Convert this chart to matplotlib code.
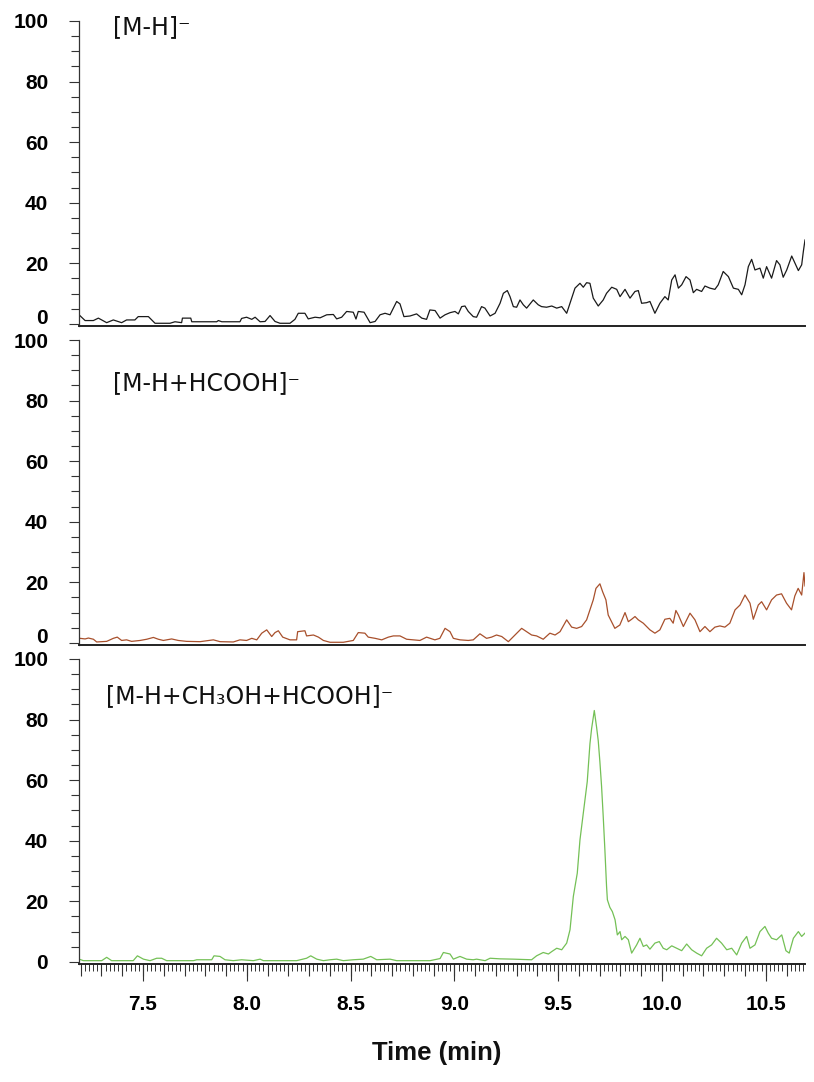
import matplotlib
matplotlib.use("Agg")
import matplotlib.pyplot as plt
from matplotlib.ticker import MultipleLocator, FixedLocator

# ---------------- data ----------------
t1 = [7.192, 7.221, 7.261, 7.285, 7.325, 7.357, 7.397, 7.421, 7.461, 7.477,
      7.526, 7.558, 7.630, 7.654, 7.686, 7.690, 7.730, 7.735, 7.855, 7.863,
      7.880, 7.967, 7.975, 7.999, 8.024, 8.040, 8.064, 8.088, 8.112, 8.136,
      8.160, 8.208, 8.232, 8.248, 8.280, 8.296, 8.329, 8.353, 8.385, 8.417,
      8.433, 8.457, 8.481, 8.513, 8.526, 8.537, 8.565, 8.594, 8.618, 8.642,
      8.666, 8.690, 8.722, 8.738, 8.757, 8.786, 8.818, 8.843, 8.866, 8.882,
      8.907, 8.931, 8.955, 8.979, 9.003, 9.019, 9.035, 9.051, 9.067, 9.091,
      9.107, 9.131, 9.147, 9.172, 9.196, 9.220, 9.236, 9.255, 9.268, 9.284,
      9.300, 9.316, 9.332, 9.348, 9.380, 9.404, 9.420, 9.444, 9.469, 9.493,
      9.517, 9.541, 9.557, 9.581, 9.605, 9.621, 9.637, 9.653, 9.669, 9.693,
      9.717, 9.733, 9.758, 9.782, 9.798, 9.822, 9.846, 9.870, 9.886, 9.902,
      9.926, 9.942, 9.966, 9.990, 10.014, 10.030, 10.047, 10.063, 10.079, 10.095,
      10.116, 10.135, 10.151, 10.167, 10.191, 10.207, 10.231, 10.255, 10.271, 10.295,
      10.320, 10.344, 10.368, 10.384, 10.400, 10.416, 10.432, 10.448, 10.472, 10.488,
      10.504, 10.528, 10.552, 10.568, 10.584, 10.601, 10.625, 10.641, 10.657, 10.673,
      10.681, 10.689]
y1 = [3.0, 1.1, 1.1, 1.9, 0.4, 1.3, 0.4, 1.3, 1.3, 2.4,
      2.4, 0.2, 0.2, 0.7, 0.4, 1.9, 1.9, 0.7, 0.7, 1.1,
      0.7, 0.7, 1.8, 2.2, 1.5, 2.2, 0.7, 0.8, 2.75, 0.8,
      0.2, 0.2, 1.5, 3.5, 3.5, 1.65, 2.2, 2.0, 3.0, 3.1,
      1.65, 2.2, 4.1, 3.85, 1.6, 4.1, 3.85, 0.4, 0.8, 3.0,
      3.5, 3.0, 7.4, 6.6, 2.4, 2.6, 3.3, 1.9, 1.5, 4.6,
      4.4, 1.9, 3.0, 3.7, 4.1, 3.3, 5.7, 5.9, 4.1, 2.4,
      2.2, 5.7, 5.2, 2.6, 3.5, 6.8, 10.1, 11.0, 9.0, 5.7,
      5.5, 7.9, 6.3, 5.2, 7.9, 6.3, 5.7, 5.5, 5.9, 5.2,
      5.7, 3.5, 6.8, 11.8, 13.4, 12.1, 13.6, 13.4, 8.5, 5.9,
      7.9, 10.1, 12.1, 11.4, 9.0, 11.4, 8.5, 10.7, 11.0, 6.8,
      7.0, 7.4, 3.5, 6.8, 9.0, 7.9, 14.5, 16.2, 11.8, 12.9,
      15.6, 14.5, 10.3, 11.4, 10.7, 12.5, 11.8, 11.4, 12.9, 17.3,
      15.6, 11.8, 11.4, 9.6, 12.9, 18.9, 21.3, 17.8, 18.4, 15.1,
      18.9, 15.1, 20.9, 19.5, 15.4, 17.8, 22.4, 20.0, 17.6, 19.5,
      23.9, 27.7]

t2 = [7.192, 7.197, 7.221, 7.237, 7.261, 7.277, 7.325, 7.357, 7.376, 7.397,
      7.421, 7.445, 7.486, 7.518, 7.550, 7.574, 7.598, 7.638, 7.670, 7.710,
      7.775, 7.839, 7.871, 7.935, 7.967, 7.999, 8.024, 8.048, 8.072, 8.096,
      8.120, 8.136, 8.152, 8.173, 8.208, 8.240, 8.245, 8.280, 8.288, 8.321,
      8.345, 8.369, 8.401, 8.465, 8.513, 8.537, 8.569, 8.585, 8.618, 8.650,
      8.682, 8.706, 8.738, 8.770, 8.834, 8.866, 8.906, 8.930, 8.955, 8.979,
      8.995, 9.027, 9.067, 9.091, 9.123, 9.155, 9.179, 9.203, 9.228, 9.260,
      9.292, 9.324, 9.348, 9.372, 9.396, 9.428, 9.460, 9.485, 9.509, 9.541,
      9.565, 9.589, 9.613, 9.637, 9.653, 9.669, 9.682, 9.701, 9.714, 9.730,
      9.741, 9.757, 9.773, 9.797, 9.822, 9.838, 9.854, 9.870, 9.886, 9.910,
      9.942, 9.966, 9.990, 10.014, 10.038, 10.054, 10.067, 10.079, 10.103, 10.135,
      10.159, 10.183, 10.207, 10.231, 10.255, 10.279, 10.303, 10.327, 10.352, 10.376,
      10.400, 10.424, 10.440, 10.464, 10.480, 10.504, 10.528, 10.552, 10.576, 10.600,
      10.624, 10.640, 10.656, 10.673, 10.684, 10.689]
y2 = [1.2, 1.5, 1.3, 1.6, 1.2, 0.3, 0.5, 1.5, 1.9, 0.8,
      1.0, 0.5, 0.8, 1.2, 1.8, 1.2, 0.8, 1.3, 0.8, 0.5,
      0.4, 1.0, 0.4, 0.3, 1.0, 0.8, 1.5, 1.0, 3.2, 4.3,
      2.1, 3.4, 4.0, 1.9, 1.0, 1.0, 3.7, 4.0, 2.3, 2.6,
      1.9, 0.8, 0.2, 0.2, 0.8, 3.4, 3.2, 1.9, 1.5, 1.0,
      1.9, 2.3, 2.3, 1.2, 0.8, 1.9, 1.0, 1.5, 4.8, 3.7,
      1.5, 1.0, 0.8, 1.0, 3.0, 1.5, 1.9, 2.6, 2.1, 0.4,
      2.6, 4.8, 3.7, 2.6, 2.3, 1.2, 3.2, 2.6, 3.7, 7.6,
      5.2, 4.8, 5.4, 7.6, 10.9, 14.2, 18.0, 19.5, 16.9, 14.2,
      9.2, 7.0, 4.8, 5.9, 10.0, 7.0, 7.8, 8.7, 7.6, 6.5,
      4.3, 3.2, 4.3, 7.8, 8.1, 6.5, 10.7, 9.2, 5.4, 9.8,
      7.6, 3.7, 5.4, 3.7, 5.2, 5.6, 5.2, 6.5, 10.9, 12.5,
      15.8, 13.1, 7.8, 12.5, 13.6, 10.9, 14.2, 15.8, 16.2, 13.1,
      10.9, 15.5, 18.0, 15.8, 23.2, 18.8]

t3 = [7.192, 7.213, 7.301, 7.325, 7.349, 7.453, 7.473, 7.502, 7.534, 7.566,
      7.590, 7.614, 7.743, 7.759, 7.831, 7.842, 7.871, 7.895, 7.935, 7.975,
      8.032, 8.064, 8.080, 8.240, 8.288, 8.308, 8.337, 8.369, 8.401, 8.433,
      8.465, 8.513, 8.561, 8.597, 8.626, 8.690, 8.722, 8.883, 8.931, 8.947,
      8.979, 8.995, 9.027, 9.059, 9.091, 9.107, 9.148, 9.172, 9.220, 9.284,
      9.372, 9.396, 9.428, 9.453, 9.469, 9.493, 9.517, 9.541, 9.557, 9.573,
      9.592, 9.605, 9.621, 9.640, 9.653, 9.661, 9.674, 9.685, 9.693, 9.701,
      9.709, 9.717, 9.725, 9.733, 9.737, 9.749, 9.761, 9.774, 9.785, 9.798,
      9.806, 9.822, 9.838, 9.854, 9.878, 9.894, 9.910, 9.926, 9.942, 9.966,
      9.987, 10.006, 10.023, 10.047, 10.071, 10.095, 10.119, 10.143, 10.167, 10.191,
      10.215, 10.239, 10.263, 10.287, 10.312, 10.336, 10.360, 10.384, 10.408, 10.424,
      10.448, 10.472, 10.496, 10.512, 10.528, 10.552, 10.577, 10.597, 10.613, 10.633,
      10.657, 10.673, 10.689]
y3 = [0.9, 0.4, 0.4, 1.5, 0.4, 0.4, 2.0, 0.9, 0.4, 1.2,
      1.2, 0.4, 0.4, 0.7, 0.7, 2.0, 1.8, 0.7, 0.4, 0.7,
      0.4, 0.9, 0.4, 0.4, 1.2, 2.0, 0.9, 0.4, 0.7, 0.9,
      0.4, 0.7, 0.9, 1.8, 0.7, 0.9, 0.4, 0.4, 1.1, 3.1,
      2.6, 0.9, 1.8, 0.9, 0.7, 0.9, 0.4, 1.2, 1.0, 0.9,
      0.7, 2.0, 3.1, 2.6, 3.4, 4.5, 4.0, 6.2, 10.6, 21.6,
      29.3, 40.3, 49.1, 59.5, 72.0, 77.0, 83.0, 77.5, 73.0, 66.0,
      58.0, 48.0, 37.0, 25.0, 20.5, 18.0, 16.6, 13.9, 8.9, 10.0,
      7.3, 8.4, 7.3, 2.9, 5.6, 7.8, 5.1, 5.6, 4.2, 6.2,
      6.7, 4.5, 4.0, 5.3, 4.5, 3.7, 5.9, 4.0, 2.9, 2.0,
      4.5, 5.6, 7.8, 6.2, 4.0, 4.5, 2.3, 6.2, 8.4, 4.5,
      5.6, 10.0, 11.7, 9.5, 7.8, 7.3, 8.9, 3.7, 2.9, 7.8,
      10.0, 8.4, 9.5]

labels = ["[M-H]\u207b", "[M-H+HCOOH]\u207b", "[M-H+CH\u2083OH+HCOOH]\u207b"]
colors = ["#1a1a1a", "#a8502c", "#74c056"]
yticks = [0, 20, 40, 60, 80, 100]
xticks = [7.5, 8.0, 8.5, 9.0, 9.5, 10.0, 10.5]
xlabel = "Time (min)"

# ---------------- figure ----------------
W, H = 814, 1082
fig = plt.figure(figsize=(W / 100, H / 100), dpi=100)

tickfont = dict(family="Liberation Sans", weight="bold", size=15)
left = 79 / W
width = (805 - 79) / W
panel_px = [(21, 326), (340, 645), (659, 964)]
xlim = (7.1917, 10.689)

series = [(t1, y1), (t2, y2), (t3, y3)]
label_pos = [(113, 34), (113, 390), (106, 703)]

for i, ((top, bot), (tt, yy)) in enumerate(zip(panel_px, series)):
    ax = fig.add_axes([left, (H - bot) / H, width, (bot - top) / H])
    ax.plot(tt, yy, color=colors[i], lw=0.9)
    ax.set_xlim(*xlim)
    ax.set_ylim(-0.7, 100)
    for s in ("top", "right"):
        ax.spines[s].set_visible(False)
    ax.spines["left"].set_color("#333333")
    ax.spines["left"].set_linewidth(0.9)
    ax.spines["bottom"].set_color("#222222")
    ax.spines["bottom"].set_linewidth(1.4)
    ax.yaxis.set_major_locator(FixedLocator(yticks))
    ax.yaxis.set_minor_locator(MultipleLocator(5))
    ax.tick_params(axis="y", which="major", direction="out", length=7.2,
                   width=0.8, color="#333333", pad=15)
    ax.tick_params(axis="y", which="minor", direction="out", length=5.8,
                   width=0.8, color="#333333")
    ax.set_yticklabels([str(v) for v in yticks], fontdict=tickfont)
    if i < 2:
        # the "0" label sits slightly above its tick in the reference
        ax.yaxis.get_major_ticks()[0].label1.set_verticalalignment("baseline")
        ax.tick_params(axis="x", which="both", bottom=False, labelbottom=False)
    else:
        ax.xaxis.set_major_locator(FixedLocator(xticks))
        ax.xaxis.set_minor_locator(MultipleLocator(0.02))
        ax.tick_params(axis="x", which="major", direction="out", length=12,
                       width=0.8, color="#333333", pad=10)
        ax.tick_params(axis="x", which="minor", direction="out", length=5,
                       width=0.7, color="#333333")
        ax.set_xticklabels([f"{v:.1f}" for v in xticks], fontdict=tickfont)
        sec = ax.secondary_xaxis("bottom")
        sec.xaxis.set_major_locator(MultipleLocator(0.1))
        sec.tick_params(axis="x", direction="out", length=8.5, width=0.8,
                        color="#333333", labelbottom=False)
        sec.spines["bottom"].set_visible(False)
    lx, ly = label_pos[i]
    fig.text(lx / W, 1 - ly / H, labels[i], family="DejaVu Sans", size=17,
             ha="left", va="baseline", color="#111111")

fig.text(437 / W, 1 - 1053 / H, xlabel, family="Liberation Sans",
         weight="bold", size=18.5, ha="center", va="center", color="#111111")

fig.savefig("out.png", dpi=100, facecolor="white")
